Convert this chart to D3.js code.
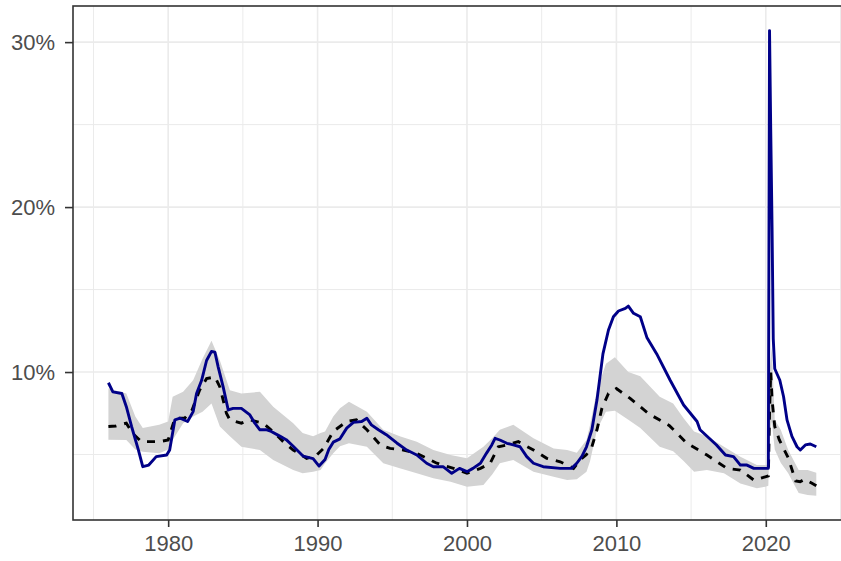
<!DOCTYPE html>
<html><head><meta charset="utf-8">
<script src="https://cdn.jsdelivr.net/npm/d3@7"></script>
<style>body{margin:0;background:#fff} svg{display:block}</style>
</head><body><svg id="c" width="841" height="561"></svg>
<script>
// ---- data ----
const xTickYears = [1980, 1990, 2000, 2010, 2020];
const xMinorYears = [1975, 1985, 1995, 2005, 2015, 2025];
const yTickValues = [10, 20, 30];
const yMinorValues = [5, 15, 25];
const yTickLabels = ["10%", "20%", "30%"];

const actualYears = [1976.0,1976.3,1976.9,1977.2,1977.55,1978.0,1978.3,1978.7,1979.2,1979.9,1980.1,1980.45,1980.8,1981.3,1981.67,1981.9,1982.24,1982.57,1982.9,1983.13,1983.35,1983.68,1984.02,1984.35,1984.9,1985.47,1985.8,1986.14,1986.6,1986.9,1987.5,1987.9,1988.37,1989.04,1989.7,1990.1,1990.5,1990.75,1991.05,1991.5,1991.95,1992.4,1992.95,1993.3,1993.6,1994.07,1994.6,1995.3,1995.97,1996.64,1997.3,1997.75,1998.4,1998.98,1999.5,2000.0,2000.4,2000.9,2001.3,2001.66,2001.88,2002.2,2002.67,2003.1,2003.55,2004.0,2004.45,2005.1,2006.24,2007.0,2007.35,2007.7,2008.0,2008.36,2008.7,2008.9,2009.1,2009.47,2009.8,2010.14,2010.6,2010.8,2011.15,2011.6,2012.04,2012.7,2013.6,2014.5,2015.4,2015.6,2016.7,2017.3,2017.84,2018.3,2018.74,2019.2,2020.17,2020.25,2020.33,2020.42,2020.5,2020.6,2020.94,2021.19,2021.42,2021.75,2022.09,2022.31,2022.65,2022.98,2023.38];
const actualValues = [9.35,8.8,8.7,7.9,6.7,5.3,4.26,4.36,4.87,4.97,5.27,7.1,7.2,7.0,7.6,8.7,9.5,10.7,11.25,11.2,10.3,9.1,7.7,7.8,7.8,7.4,6.9,6.5,6.5,6.4,6.1,5.9,5.5,4.9,4.75,4.3,4.7,5.3,5.75,5.95,6.6,6.95,7.0,7.2,6.8,6.5,6.2,5.7,5.27,4.97,4.47,4.26,4.26,3.86,4.16,3.96,4.16,4.47,5.07,5.58,5.98,5.88,5.68,5.58,5.47,4.87,4.47,4.26,4.16,4.16,4.47,4.9,5.47,6.5,8.3,9.7,11.1,12.55,13.35,13.7,13.86,14.0,13.56,13.35,12.1,11.1,9.5,8.0,7.0,6.5,5.58,4.97,4.87,4.36,4.36,4.16,4.16,30.7,24.7,18.7,12.0,10.2,9.5,8.5,7.1,6.1,5.47,5.27,5.58,5.64,5.47];

const medianYears = [1976.0,1976.5,1977.2,1977.6,1978.2,1979.4,1980.0,1980.45,1981.1,1981.6,1982.1,1982.57,1983.13,1983.46,1983.9,1984.13,1984.9,1985.47,1986.36,1987.03,1987.7,1988.37,1989.27,1989.94,1990.4,1991.05,1991.95,1992.6,1993.3,1994.2,1994.85,1995.74,1996.64,1997.98,1999.1,2000.0,2000.9,2001.55,2002.1,2002.67,2003.44,2004.45,2005.34,2006.24,2007.13,2007.57,2008.0,2008.36,2008.7,2009.03,2009.47,2010.0,2010.92,2012.2,2013.55,2014.7,2016.06,2017.4,2018.3,2019.2,2019.97,2020.17,2020.25,2020.33,2020.42,2020.6,2020.9,2021.5,2022.0,2022.3,2022.6,2023.0,2023.38];
const medianValues = [6.7,6.73,6.9,6.3,5.78,5.78,5.88,7.2,7.2,7.7,8.9,9.6,9.7,9.1,7.5,7.1,6.9,7.1,6.9,6.38,5.78,5.27,4.77,4.97,5.37,6.4,7.0,7.1,6.5,5.58,5.37,5.27,5.07,4.47,4.16,3.86,4.16,4.47,5.47,5.58,5.78,5.27,4.77,4.56,4.16,4.67,5.0,5.47,6.5,7.8,8.7,9.0,8.4,7.45,6.75,5.7,4.97,4.16,4.06,3.45,3.65,3.7,7.5,10.0,8.3,6.7,5.9,4.8,3.4,3.35,3.5,3.3,3.1];

const bandYears = [1976.0,1977.2,1977.8,1978.3,1979.4,1980.0,1980.3,1981.0,1981.67,1982.3,1982.9,1983.46,1984.13,1984.9,1986.14,1987.03,1988.37,1989.0,1989.7,1990.2,1990.5,1991.05,1991.5,1992.1,1993.3,1994.4,1995.5,1996.64,1997.75,1998.9,2000.0,2001.1,2001.7,2002.2,2003.1,2004.45,2005.8,2006.7,2007.35,2008.0,2008.24,2008.7,2009.3,2009.9,2010.8,2011.6,2012.9,2013.8,2014.5,2015.2,2016.06,2017.2,2018.3,2019.4,2019.97,2020.17,2020.25,2020.4,2020.6,2021.0,2021.5,2022.2,2022.8,2023.38];
const bandLower = [5.9,5.88,5.3,5.17,5.07,5.3,5.88,6.9,7.3,7.6,8.1,6.7,6.1,5.47,5.27,4.67,4.06,3.86,3.96,4.06,4.47,5.07,5.5,5.68,5.47,4.47,4.16,3.86,3.56,3.35,3.05,3.15,3.8,4.47,4.67,3.96,3.65,3.45,3.5,3.96,4.6,6.5,7.6,7.65,7.1,6.6,5.47,5.2,4.6,3.95,4.06,3.86,3.25,2.95,3.05,3.1,6.0,7.0,5.3,4.5,3.86,2.67,2.55,2.5];
const bandUpper = [9.0,8.7,7.3,6.6,6.8,7.0,8.5,8.8,9.5,10.8,11.9,10.7,8.9,8.7,8.8,7.9,6.9,6.3,6.1,6.3,6.4,7.3,7.8,8.2,7.6,6.5,6.1,5.78,5.27,4.97,4.77,5.47,6.0,6.5,6.8,5.98,5.37,5.27,5.1,5.88,6.8,8.9,10.5,10.9,10.0,9.75,8.5,8.1,7.2,6.4,6.1,5.47,4.87,4.36,4.36,4.4,10.0,11.5,7.1,6.5,5.27,4.06,4.06,3.9];

// ---- layout ----
const svg = d3.select("#c");
const P = {left: 73, top: 6, right: 852, bottom: 520};
const x = d3.scaleLinear().domain([1973.63, 2025.77]).range([P.left, P.right]);
const y = d3.scaleLinear().domain([1.03, 32.19]).range([P.bottom, P.top]);

svg.append("defs").append("clipPath").attr("id", "clip")
  .append("rect").attr("x", P.left).attr("y", P.top)
  .attr("width", P.right - P.left).attr("height", P.bottom - P.top);

const grid = svg.append("g");
grid.selectAll(".vminor").data(xMinorYears).join("line")
  .attr("x1", d => x(d)).attr("x2", d => x(d)).attr("y1", P.top).attr("y2", P.bottom)
  .attr("stroke", "#EBEBEB").attr("stroke-width", 1);
grid.selectAll(".hminor").data(yMinorValues).join("line")
  .attr("y1", d => y(d)).attr("y2", d => y(d)).attr("x1", P.left).attr("x2", P.right)
  .attr("stroke", "#EBEBEB").attr("stroke-width", 1);
grid.selectAll(".vmajor").data(xTickYears).join("line")
  .attr("x1", d => x(d)).attr("x2", d => x(d)).attr("y1", P.top).attr("y2", P.bottom)
  .attr("stroke", "#EBEBEB").attr("stroke-width", 1.6);
grid.selectAll(".hmajor").data(yTickValues).join("line")
  .attr("y1", d => y(d)).attr("y2", d => y(d)).attr("x1", P.left).attr("x2", P.right)
  .attr("stroke", "#EBEBEB").attr("stroke-width", 1.6);

const plot = svg.append("g").attr("clip-path", "url(#clip)");

const band = bandYears.map((t, i) => ({t, lo: bandLower[i], hi: bandUpper[i]}));
plot.append("path").datum(band)
  .attr("fill", "#D3D3D3")
  .attr("d", d3.area().x(d => x(d.t)).y0(d => y(d.lo)).y1(d => y(d.hi)));

const med = medianYears.map((t, i) => ({t, v: medianValues[i]}));
plot.append("path").datum(med)
  .attr("fill", "none").attr("stroke", "#000").attr("stroke-width", 2.9)
  .attr("stroke-dasharray", "8,8")
  .attr("d", d3.line().x(d => x(d.t)).y(d => y(d.v)));

const act = actualYears.map((t, i) => ({t, v: actualValues[i]}));
plot.append("path").datum(act)
  .attr("fill", "none").attr("stroke", "#000088").attr("stroke-width", 2.9)
  .attr("stroke-linejoin", "round")
  .attr("d", d3.line().x(d => x(d.t)).y(d => y(d.v)));

// panel border
svg.append("rect").attr("x", P.left).attr("y", P.top)
  .attr("width", P.right - P.left).attr("height", P.bottom - P.top)
  .attr("fill", "none").attr("stroke", "#333333").attr("stroke-width", 1.6);

// axes
const fontFam = "'Liberation Sans', Arial, sans-serif";
const yAxis = svg.append("g").attr("transform", `translate(${P.left},0)`)
  .call(d3.axisLeft(y).tickValues(yTickValues).tickSize(8).tickPadding(10)
    .tickFormat((d, i) => yTickLabels[i]));
const xAxis = svg.append("g").attr("transform", `translate(0,${P.bottom})`)
  .call(d3.axisBottom(x).tickValues(xTickYears).tickSize(7).tickPadding(8)
    .tickFormat(d3.format("d")));
[yAxis, xAxis].forEach(g => {
  g.select(".domain").remove();
  g.selectAll(".tick line").attr("stroke", "#333333").attr("stroke-width", 1.6);
  g.selectAll(".tick text").attr("fill", "#4D4D4D")
    .style("font-family", fontFam).style("font-size", "22px");
});
</script></body></html>
